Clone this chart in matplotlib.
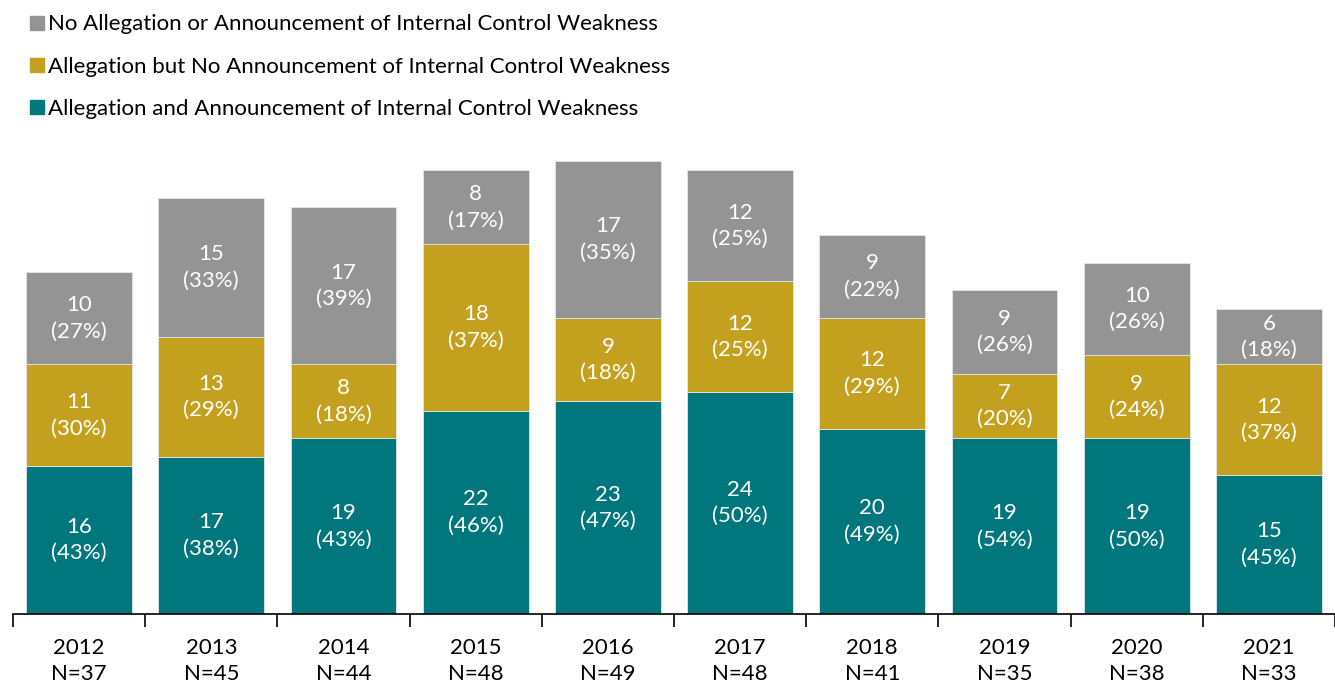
import matplotlib.pyplot as plt
from matplotlib.patches import Patch

years = ['2012', '2013', '2014', '2015', '2016', '2017', '2018', '2019', '2020', '2021']
totals = [37, 45, 44, 48, 49, 48, 41, 35, 38, 33]

both = [16, 17, 19, 22, 23, 24, 20, 19, 19, 15]
alleg_only = [11, 13, 8, 18, 9, 12, 12, 7, 9, 12]
neither = [10, 15, 17, 8, 17, 12, 9, 9, 10, 6]

both_pct = [43, 38, 43, 46, 47, 50, 49, 54, 50, 45]
alleg_only_pct = [30, 29, 18, 37, 18, 25, 29, 20, 24, 37]
neither_pct = [27, 33, 39, 17, 35, 25, 22, 26, 26, 18]

names = ['Allegation and Announcement of Internal Control Weakness',
         'Allegation but No Announcement of Internal Control Weakness',
         'No Allegation or Announcement of Internal Control Weakness']
colors = ['#00777c', '#c3a11f', '#949494']

plt.rcParams['font.family'] = ['Lato', 'DejaVu Sans']
fs = 16

fig = plt.figure(figsize=(13.35, 6.83), dpi=100)
ax = fig.add_axes([13 / 1335, 69 / 683, 1 - 13 / 1335, 464 / 683])

x = list(range(len(years)))
bottom = [0] * len(years)
for vals, pcts, c in zip([both, alleg_only, neither],
                         [both_pct, alleg_only_pct, neither_pct], colors):
    ax.bar(x, vals, width=0.8, bottom=bottom, color=c, edgecolor='#e0e6e6', linewidth=0.6)
    for i in x:
        ax.text(i, bottom[i] + vals[i] / 2, f'{vals[i]}\n({pcts[i]}%)', ha='center', va='center',
                color='white', fontsize=fs, linespacing=1.4)
    bottom = [b + v for b, v in zip(bottom, vals)]

ax.set_xlim(-0.5, len(years) - 0.5)
ax.set_ylim(0, 50.2)
ax.set_yticks([])
for s in ['top', 'right', 'left']:
    ax.spines[s].set_visible(False)
ax.spines['bottom'].set_linewidth(1.2)

# tick marks sit between the categories, labels in the middle
ax.set_xticks([i - 0.5 for i in range(len(years) + 1)])
ax.set_xticklabels([])
ax.tick_params(axis='x', length=9, width=1.2, direction='out')
ax.set_xticks(x, minor=True)
ax.set_xticklabels([f'{y}\nN={n}' for y, n in zip(years, totals)], minor=True, fontsize=fs,
                   linespacing=1.4)
ax.tick_params(axis='x', which='minor', length=0, pad=17)

handles = [Patch(color=c) for c in colors][::-1]
fig.legend(handles, names[::-1], loc='upper left', bbox_to_anchor=(0.012, 1.0), frameon=False,
           fontsize=fs, handlelength=0.6, handleheight=0.6, handletextpad=0.2,
           labelspacing=1.0, borderaxespad=0.25)

fig.savefig('out.png', dpi=100)
